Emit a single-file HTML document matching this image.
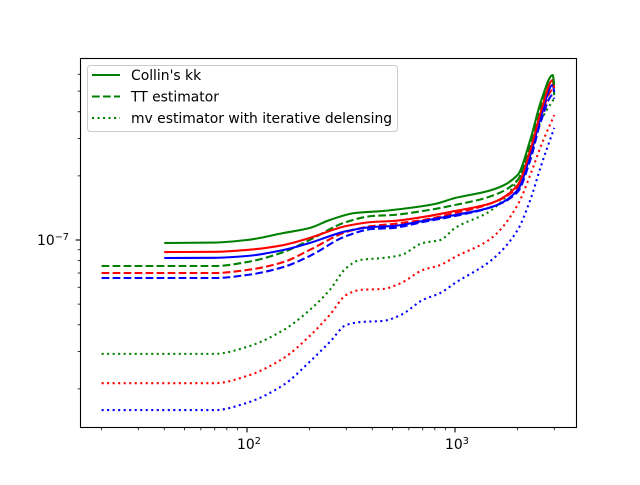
<!DOCTYPE html>
<html><head><meta charset="utf-8"><style>
html,body{margin:0;padding:0;background:#fff;}
svg text{font-family:"DejaVu Sans","Liberation Sans",sans-serif;}
</style></head><body>
<svg id="chart" width="640" height="480" xmlns="http://www.w3.org/2000/svg">
<rect x="0" y="0" width="640" height="480" fill="#fff"/>
<g id="plot"></g>
<g id="axes"></g>
<rect x="80.5" y="58.5" width="496" height="369" fill="none" stroke="#000" stroke-width="1.1"/>
<g>
<rect x="87.5" y="65.5" width="310" height="66" rx="3" fill="#fff" fill-opacity="0.8" stroke="#ccc"/>
<g><line x1="92" y1="75" x2="120" y2="75" stroke="green" stroke-width="2.08"/><text x="131" y="80" font-size="13.9px">Collin's kk</text></g>
<g><line x1="92" y1="96.5" x2="120" y2="96.5" stroke="green" stroke-width="2.08" stroke-dasharray="7.7,3.3"/><text x="131" y="101.5" font-size="13.9px">TT estimator</text></g>
<g><line x1="92" y1="118" x2="120" y2="118" stroke="green" stroke-width="2.08" stroke-dasharray="2.08,3.43"/><text x="131" y="123" font-size="13.9px">mv estimator with iterative delensing</text></g>
</g>
</svg>
<script>
// values in units of 1e-7
const xSolid = [40,70,100,150,200,250,330,450,600,800,1000,1500,2000,2300,2600,2950,3000];
const greenSolid = [0.968,0.973,1.0,1.079,1.138,1.241,1.339,1.368,1.413,1.476,1.575,1.716,2.019,2.948,4.53,5.95,5.34];
const xBase = [40,70,100,150,200,300,400,500,700,1000,1500,2000,2300,2600,2950,3000];
const redSolid = [0.878,0.88,0.898,0.947,1.022,1.163,1.215,1.228,1.282,1.368,1.492,1.81,2.64,4.07,5.63,5.17];
const blueSolid = [0.823,0.825,0.841,0.898,0.968,1.10,1.151,1.163,1.228,1.31,1.428,1.716,2.5,3.86,5.35,4.95];
const xDash = [20,70,100,150,200,300,400,500,700,1000,1500,2000,2300,2600,2950,3000];
const greenDash = [0.755,0.755,0.788,0.878,1.0,1.215,1.296,1.31,1.368,1.46,1.61,1.91,2.79,4.3,5.63,4.79];
const redDash = [0.70,0.70,0.723,0.788,0.898,1.09,1.163,1.189,1.241,1.339,1.49,1.77,2.5,3.86,5.06,4.9];
const blueDash = [0.663,0.663,0.685,0.747,0.841,1.044,1.126,1.138,1.215,1.296,1.428,1.68,2.37,3.66,4.79,4.6];
const xDot = [20,70,100,150,200,250,300,350,450,550,700,850,1000,1500,2000,2300,2600,3000];
const greenDot = [0.292,0.292,0.315,0.378,0.469,0.583,0.739,0.806,0.823,0.85,0.968,1.0,1.138,1.383,1.91,2.64,3.66,4.63];
const redDot = [0.2127,0.2127,0.23,0.279,0.354,0.445,0.552,0.583,0.589,0.628,0.723,0.763,0.832,1.022,1.46,2.02,2.79,3.86];
const blueDot = [0.159,0.159,0.172,0.209,0.268,0.332,0.399,0.412,0.417,0.445,0.523,0.564,0.628,0.806,1.114,1.54,2.25,3.36];
const xMajorTicks = [100,1000];
const xMajorLabels = ["2","3"];
const yMajorTicks = [1];
const yMinorTicks = [0.2,0.3,0.4,0.5,0.6,0.7,0.8,0.9,2,3,4,5,6];

const NS="http://www.w3.org/2000/svg";
function xs(v){return 247+208*Math.log10(v/100);}
function ys(v){return 240-213*Math.log10(v);}
function mk(tag,attrs,parent){const e=document.createElementNS(NS,tag);for(const k in attrs)e.setAttribute(k,attrs[k]);parent.appendChild(e);return e;}
const plot=document.getElementById('plot');
const axes=document.getElementById('axes');
// monotone cubic (Fritsch-Carlson) in screen space
function path(xa,ya){
  const X=xa.map(xs),Y=ya.map(ys),n=X.length;
  const d=[],m=new Array(n);
  for(let i=0;i<n-1;i++)d.push((Y[i+1]-Y[i])/(X[i+1]-X[i]));
  m[0]=d[0];m[n-1]=d[n-2];
  for(let i=1;i<n-1;i++){
    if(d[i-1]*d[i]<=0)m[i]=0;
    else{const h0=X[i]-X[i-1],h1=X[i+1]-X[i];const w1=2*h1+h0,w2=h1+2*h0;m[i]=(w1+w2)/(w1/d[i-1]+w2/d[i]);}
  }
  let s="M"+X[0].toFixed(2)+","+Y[0].toFixed(2);
  for(let i=0;i<n-1;i++){
    const h=(X[i+1]-X[i])/3;
    s+=" C"+(X[i]+h).toFixed(2)+","+(Y[i]+m[i]*h).toFixed(2)+" "+(X[i+1]-h).toFixed(2)+","+(Y[i+1]-m[i+1]*h).toFixed(2)+" "+X[i+1].toFixed(2)+","+Y[i+1].toFixed(2);
  }
  return s;
}
const series=[
 ['blue-dotted',xDot,blueDot,'blue','2.08,3.43'],
 ['red-dotted',xDot,redDot,'red','2.08,3.43'],
 ['green-dotted',xDot,greenDot,'green','2.08,3.43'],
 ['blue-dashed',xDash,blueDash,'blue','7.7,3.3'],
 ['red-dashed',xDash,redDash,'red','7.7,3.3'],
 ['green-dashed',xDash,greenDash,'green','7.7,3.3'],
 ['blue-solid',xBase,blueSolid,'blue',''],
 ['red-solid',xBase,redSolid,'red',''],
 ['green-solid',xSolid,greenSolid,'green','']
];
series.forEach(s=>{
  const e=mk('path',{d:path(s[1],s[2]),fill:'none',stroke:s[3],'stroke-width':2.08},plot);
  if(s[4])e.setAttribute('stroke-dasharray',s[4]);
  
  
});
for(let dec=10;dec<=1000;dec*=10){
  for(let m=1;m<10;m++){
    const v=dec*m; const x=xs(v);
    if(x<80||x>576)continue;
    const major=(m===1);
    const t=mk('line',{x1:x,y1:427.5,x2:x,y2:427.5+(major?4.9:2.8),stroke:'#000','stroke-width':major?1.1:0.8},axes);
    
    
  }
}
xMajorTicks.forEach((v,i)=>{
  const t=mk('text',{x:xs(v)-10,y:449,'font-size':'13.9px'},axes);
  t.textContent="10";
  const s=mk('tspan',{dy:-5,'font-size':'9.7px'},t);
  s.textContent=xMajorLabels[i];
  
  
});
yMajorTicks.forEach(v=>{
  const y=ys(v);
  const l=mk('line',{x1:80.5,y1:y,x2:75.6,y2:y,stroke:'#000','stroke-width':1.1},axes);
  
  
  const t=mk('text',{x:37,y:y+5,'font-size':'13.9px'},axes);
  t.textContent="10";
  const s=mk('tspan',{dy:-5,'font-size':'9.7px'},t);
  s.textContent="\u22127";
  
  
});
yMinorTicks.forEach(v=>{
  const y=ys(v);
  const l=mk('line',{x1:80.5,y1:y,x2:77.7,y2:y,stroke:'#000','stroke-width':0.8},axes);
  
  
});
</script>
</body></html>
